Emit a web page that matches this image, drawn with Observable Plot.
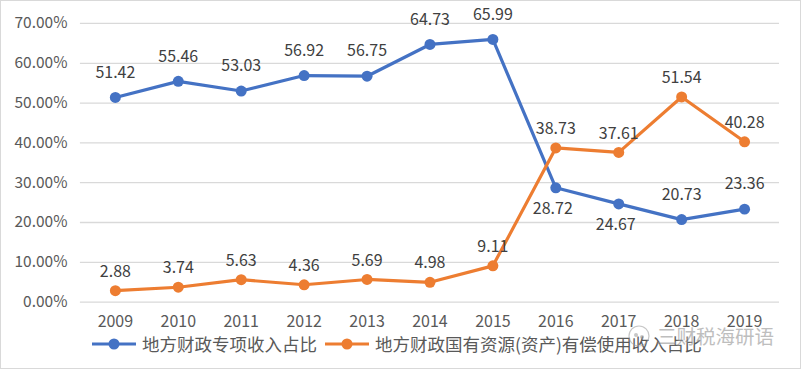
<!DOCTYPE html>
<html>
<head>
<meta charset="utf-8">
<script src="https://cdn.jsdelivr.net/npm/d3@7"></script>
<script src="https://cdn.jsdelivr.net/npm/@observablehq/plot@0.6"></script>
<style>
  html, body { margin: 0; padding: 0; background: #fff; }
  #frame { position: relative; width: 801px; height: 369px; box-sizing: border-box; border: 1px solid #d9d9d9; overflow: hidden; font-family: "Noto Sans CJK SC", "Noto Sans", sans-serif; }
  #chart { position: absolute; left: -1px; top: -1px; }
  .leg { position: absolute; top: 333px; height: 20px; display: flex; align-items: center; }
  .leg span { font-size: 17.5px; color: #595959; margin-left: 6px; white-space: nowrap; line-height: 20px; }
  #wm { position: absolute; left: 626px; top: 320px; display: flex; align-items: center; opacity: 0.55; }
  #wm span { font-size: 19.5px; color: #8a8a8a; text-shadow: 0 0 2px #fff, 0 0 2px #fff; margin-left: 6px; }
</style>
</head>
<body>
<div id="frame">
  <div id="chart"></div>
</div>
<script>
const years = ["2009","2010","2011","2012","2013","2014","2015","2016","2017","2018","2019"];
const specialIncome = [51.42, 55.46, 53.03, 56.92, 56.75, 64.73, 65.99, 28.72, 24.67, 20.73, 23.36];
const stateAssetIncome = [2.88, 3.74, 5.63, 4.36, 5.69, 4.98, 9.11, 38.73, 37.61, 51.54, 40.28];
const seriesNames = ["地方财政专项收入占比", "地方财政国有资源(资产)有偿使用收入占比"];
const yTicks = [0, 10, 20, 30, 40, 50, 60, 70];

const colors = ["#4472C4", "#ED7D31"];
const data = [];
years.forEach((y, i) => {
  data.push({year: y, value: specialIncome[i], series: seriesNames[0]});
  data.push({year: y, value: stateAssetIncome[i], series: seriesNames[1]});
});
const belowBlue = new Set(["2016", "2017"]);
const blue = data.filter(d => d.series === seriesNames[0]);
const orange = data.filter(d => d.series === seriesNames[1]);

const chart = Plot.plot({
  width: 801,
  height: 335,
  marginLeft: 80,
  marginRight: 21,
  marginTop: 23,
  marginBottom: 33,
  style: {fontFamily: '"Noto Sans CJK SC", "Noto Sans", sans-serif', background: "transparent", overflow: "visible"},
  x: {type: "point", domain: years, padding: 0.5},
  y: {domain: [0, 70]},
  color: {domain: seriesNames, range: colors},
  marks: [
    Plot.gridY(yTicks, {stroke: "#d9d9d9", strokeOpacity: 1, strokeWidth: 1.3}),
    Plot.axisY(yTicks, {tickSize: 0, tickPadding: 13, fontSize: 15.5, fill: "#595959", tickFormat: d => d.toFixed(2) + "%", label: null}),
    Plot.axisX({tickSize: 0, tickPadding: 14, fontSize: 16, fill: "#595959", label: null}),
    Plot.line(data, {x: "year", y: "value", z: "series", stroke: "series", strokeWidth: 3.2}),
    Plot.dot(data, {x: "year", y: "value", fill: "series", r: 5.5}),
    Plot.text(blue.filter(d => !belowBlue.has(d.year)), {x: "year", y: "value", text: d => d.value.toFixed(2), dy: -25, fontSize: 16, fill: "#404040"}),
    Plot.text(blue.filter(d => belowBlue.has(d.year)), {x: "year", y: "value", text: d => d.value.toFixed(2), dy: 21, dx: -3, fontSize: 16, fill: "#404040"}),
    Plot.text(orange, {x: "year", y: "value", text: d => d.value.toFixed(2), dy: -19, fontSize: 16, fill: "#404040"})
  ]
});
document.getElementById("chart").appendChild(chart);

const frame = document.getElementById("frame");
const legendLefts = [91, 324];
seriesNames.forEach((name, i) => {
  const div = document.createElement("div");
  div.className = "leg";
  div.style.left = legendLefts[i] + "px";
  div.innerHTML = `<svg width="44" height="14"><line x1="0" y1="7" x2="44" y2="7" stroke="${colors[i]}" stroke-width="3.2"/><circle cx="22" cy="7" r="5.5" fill="${colors[i]}"/></svg><span>${name}</span>`;
  frame.appendChild(div);
});
const wm = document.createElement("div");
wm.id = "wm";
wm.innerHTML = `<svg width="24" height="24"><circle cx="12" cy="12" r="10" fill="none" stroke="#9a9a9a" stroke-width="1.2"/><circle cx="9" cy="11" r="2" fill="#9a9a9a"/><circle cx="15" cy="13" r="2" fill="#9a9a9a"/></svg><span>三财税海研语</span>`;
frame.appendChild(wm);
</script>
</body>
</html>
